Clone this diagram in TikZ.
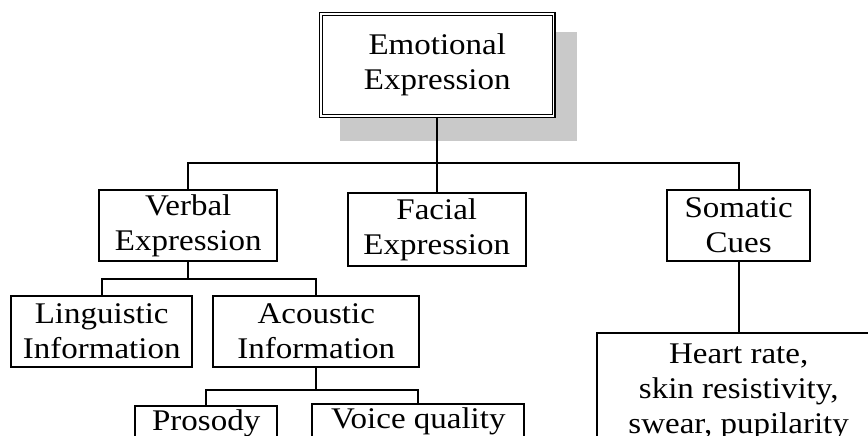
\documentclass[tikz,border=0pt]{standalone}
\usepackage{fontspec}
\setmainfont{Liberation Serif}[FakeStretch=1.1]
\begin{document}
\begin{tikzpicture}[x=1pt,y=-1pt,
  every node/.style={font=\fontsize{30}{35}\selectfont, align=center, inner sep=0pt},
  box/.style={draw=black, line width=1.8pt, fill=white},
  openbox/.style={box, anchor=north, inner ysep=4pt, text depth=90pt},
  link/.style={draw=black, line width=1.8pt}]
\useasboundingbox (0,0) rectangle (868,436);
\clip (0,0) rectangle (868,436);
% shadow
\fill[black!21] (340,32.3) rectangle (576.7,140.7);
% nodes
\node[box, double, double distance=1.6pt, line width=1.2pt, minimum width=232.5pt, minimum height=102.5pt] (top) at (437.3,65) {Emotional\\Expression};
\node[box, minimum width=178pt, minimum height=70.7pt] (verbal) at (188.3,225.3) {Verbal\\Expression};
\node[box, minimum width=178.3pt, minimum height=72.7pt] (facial) at (436.8,229.7) {Facial\\Expression};
\node[box, minimum width=142.7pt, minimum height=70.7pt] (somatic) at (738.7,225.3) {Somatic\\Cues};
\node[box, minimum width=181.3pt, minimum height=71.3pt] (ling) at (101.7,331.7) {Linguistic\\Information};
\node[box, minimum width=206pt, minimum height=71.3pt] (acou) at (316.3,331.7) {Acoustic\\Information};
\node[openbox, minimum width=142.3pt, text height=21pt] (pros) at (206.2,405) {Prosody};
\node[openbox, minimum width=212pt, text height=20.3pt] (voice) at (418.3,403) {Voice quality};
\node[box, anchor=north, minimum width=284pt, minimum height=150pt] (heart) at (738.7,331.7) {};
\node[anchor=north] (hearttext) at (738.7,344) {Heart rate,\\skin resistivity,\\swear, pupilarity};
% connectors
\coordinate (b1) at (437.3,163.3);
\coordinate (b2) at (188.3,279);
\coordinate (b3) at (316.3,390);
\draw[link] (top.south) -- (b1);
\draw[link] (verbal.north) |- (b1) -| (somatic.north);
\draw[link] (b1) -- (b1 |- facial.north);
\draw[link] (verbal.south) -- (b2);
\draw[link] (ling.north) |- (b2) -| (acou.north);
\draw[link] (acou.south) -- (b3);
\draw[link] (pros.north) |- (b3) -| (voice.north);
\draw[link] (somatic.south) -- (heart.north);
\end{tikzpicture}
\end{document}
